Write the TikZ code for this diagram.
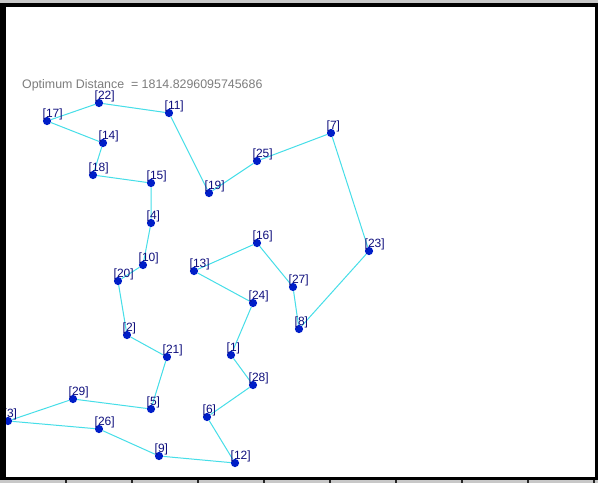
\documentclass[tikz,border=0pt]{standalone}
\usepackage{fontspec}
\setmainfont{Liberation Sans}
\definecolor{edgecyan}{RGB}{70,222,232}
\definecolor{dotblue}{RGB}{0,30,200}
\definecolor{labelnavy}{RGB}{15,15,125}
\definecolor{infogray}{RGB}{125,125,125}
\definecolor{bargray}{RGB}{200,200,200}
\pgfdeclarelayer{bg}
\pgfsetlayers{bg,main}
\begin{document}
\begin{tikzpicture}[x=1pt,y=-1pt,
  city/.style={circle,fill=dotblue,inner sep=0pt,minimum size=8.2pt},
  tour/.style={draw=edgecyan,line width=1pt},
  citylabel/.style={text=labelnavy,inner sep=0pt,anchor=base west,font=\fontsize{12}{14}\selectfont},
  infotext/.style={text=infogray,inner sep=0pt,anchor=base west,font=\fontsize{12.4}{14}\selectfont},
  framebar/.style={fill=black},
  trimbar/.style={fill=bargray}]
\useasboundingbox (0,0) rectangle (598,483);
\begin{pgfonlayer}{bg}
\fill[white] (0,0) rectangle (598,483);
\end{pgfonlayer}
\foreach \n/\x/\y in {1/231/355,2/127/335,3/8/421,4/151/223,5/151/409,6/207/417,7/331/133,8/299/329,9/159/456,10/143/265,11/169/113,12/235/463,13/194/271,14/103/143,15/151/183,16/257/243,17/47/121,18/93/175,19/209/193,20/118/281,21/167/357,22/99/103,23/369/251,24/253/303,25/257/161,26/99/429,27/293/287,28/253/385,29/73/399}{
  \node[city] (c\n) at (\x,\y) {};
  \node[citylabel] (l\n) at (\x-4.5,\y-4) {[\n]};
}
\begin{pgfonlayer}{bg}
\draw[tour] (c17) -- (c22) -- (c11) -- (c19) -- (c25) -- (c7) -- (c23) -- (c8) -- (c27) -- (c16) -- (c13) -- (c24) -- (c1) -- (c28) -- (c6) -- (c12) -- (c9) -- (c26) -- (c3) -- (c29) -- (c5) -- (c21) -- (c2) -- (c20) -- (c10) -- (c4) -- (c15) -- (c18) -- (c14) -- (c17);
\end{pgfonlayer}
\node[infotext] (info) at (22,88) {Optimum Distance\ \ = 1814.8296095745686};
% frame
\fill[trimbar] (0,0) rectangle (598,3);
\fill[framebar] (0,3) rectangle (598,7);
\fill[framebar] (0,3) rectangle (6,480);
\fill[framebar] (595,3) rectangle (598,480);
\fill[framebar] (0,477) rectangle (598,480);
\fill[trimbar] (0,480) rectangle (598,483);
\foreach \t in {66,132,198,264,330,396,462,528,594}{
  \fill[black!85] (\t-0.6,480) rectangle (\t+0.6,483);
}
\end{tikzpicture}
\end{document}
